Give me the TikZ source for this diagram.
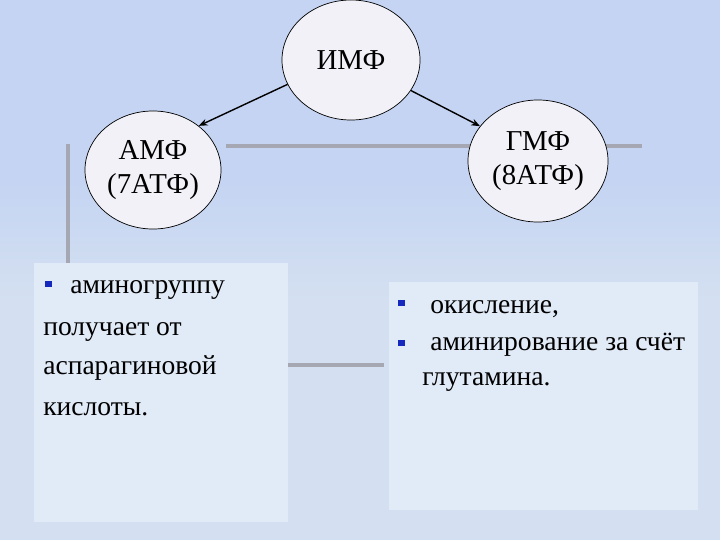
\documentclass[tikz,border=0pt]{standalone}
\usepackage{fontspec}
\setmainfont{Liberation Serif}
\usepackage{tikz}
\usetikzlibrary{arrows.meta, positioning, shapes.geometric}
\definecolor{BgBlue}{RGB}{196, 212, 242}
\definecolor{BgPale}{RGB}{212, 224, 241}
\definecolor{PanelBlue}{RGB}{225, 234, 247}
\definecolor{NodeFill}{RGB}{241, 241, 247}
\definecolor{GuideGrey}{RGB}{165, 168, 178}
\definecolor{BulletBlue}{RGB}{20, 40, 190}

\begin{document}
\begin{tikzpicture}[x=0.025cm, y=-0.025cm,
        nucl/.style={ellipse, draw=black, line width=0.5pt, fill=NodeFill, minimum width=3.45cm, minimum height=3cm, inner sep=0pt, align=center, font=\fontsize{20.5}{24.5}\selectfont},
        panel/.style={rectangle, fill=PanelBlue, inner sep=0pt, anchor=north west},
        txt/.style={anchor=base west, inner sep=0pt, font=\fontsize{19.6}{23}\selectfont},
        bul/.style={rectangle, fill=BulletBlue, minimum size=0.17cm, inner sep=0pt},
        guide/.style={GuideGrey, line width=2.8pt},
        arrow/.style={-{Stealth[length=2.2mm, width=1.7mm]}, line width=1pt}
    ]
        \useasboundingbox (0,0) rectangle (720,540);
        % Background, paler towards the bottom
        \fill[BgBlue] (0,0) rectangle (720,180);
        \shade[top color=BgBlue, bottom color=BgPale] (0,180) rectangle (720,300);
        \fill[BgPale] (0,300) rectangle (720,540);

        % Grey guide lines behind the content
        \draw[guide] (68,144) -- (68,266);
        \draw[guide] (226,146) -- (642,146);
        \draw[guide] (288,365) -- (384,365);

        % Text panels
        \node[panel, minimum width=6.35cm, minimum height=6.475cm] (leftpanel) at (34,263) {};
        \node[panel, minimum width=7.725cm, minimum height=5.7cm] (rightpanel) at (389,282) {};

        % Nucleotides
        \node[nucl] (imf) at (351,60) {ИМФ};
        \node[nucl, minimum width=3.4cm, minimum height=2.95cm] (amf) at (153,170) {АМФ\\(7АТФ)};
        \node[nucl, minimum width=3.5cm, minimum height=3.05cm] (gmf) at (538,161) {ГМФ\\(8АТФ)};
        \draw[arrow] (imf.201) -- (amf.44);
        \draw[arrow] (imf.333) -- (gmf.149);

        % Left panel text
        \node[bul] (lb1) at (48.5,284) {};
        \node[txt] (l1) at (70,293) {аминогруппу};
        \node[txt] (l2) at (43,335) {получает от};
        \node[txt] (l3) at (43,374) {аспарагиновой};
        \node[txt] (l4) at (43,415) {кислоты.};

        % Right panel text
        \node[bul] (rb1) at (401.5,303) {};
        \node[txt] (r1) at (430,313) {окисление,};
        \node[bul] (rb2) at (401.5,343) {};
        \node[txt] (r2) at (430,350) {аминирование за счёт};
        \node[txt] (r3) at (422,385) {глутамина.};
    \end{tikzpicture}
\end{document}
